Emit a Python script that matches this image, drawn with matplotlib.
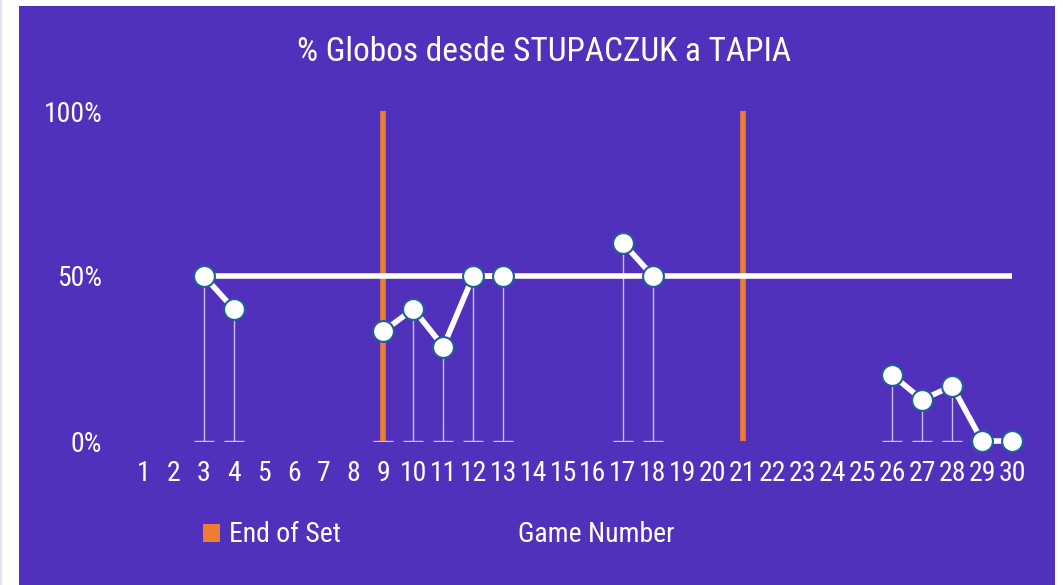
import numpy as np
import matplotlib.pyplot as plt
from matplotlib.patches import Rectangle, Patch

# datos
games = list(range(1, 31))
pct_globos = [np.nan, np.nan, 50, 40, np.nan, np.nan, np.nan, np.nan, 33.3, 40,
              28.6, 50, 50, np.nan, np.nan, np.nan, 60, 50, np.nan, np.nan,
              np.nan, np.nan, np.nan, np.nan, np.nan, 20, 12.5, 16.7, 0, 0]
ref_start = 3
ref_value = 50
end_of_set = [9, 21]
y_ticks = [0, 50, 100]
y_tick_labels = ['0%', '50%', '100%']

purple = '#5131bb'
orange = '#ed7d31'
plt.rcParams['font.family'] = ['Roboto Condensed', 'Roboto', 'DejaVu Sans']

fig = plt.figure(figsize=(10.63, 5.85), dpi=100, facecolor='white')
# fondo morado
fig.patches.append(Rectangle((19 / 1063, 0), (1055 - 19) / 1063, (585 - 6) / 585,
                             transform=fig.transFigure, facecolor=purple,
                             edgecolor='none', zorder=-2))
fig.patches.append(Rectangle((0, 0), 1.5 / 1063, 1, transform=fig.transFigure,
                             facecolor='#dce3f5', edgecolor='none', zorder=-2))

# x: 1 -> 144px, 30 -> 1012px ; y: 0 -> 441px, 100 -> 111px
ax = fig.add_axes([144 / 1063, 1 - 441 / 585, (1012 - 144) / 1063, (441 - 111) / 585])
ax.set_zorder(2)
ax.set_xlim(1, 30)
ax.set_ylim(0, 100)
ax.patch.set_visible(False)
for s in ax.spines.values():
    s.set_visible(False)

x = np.array(games, dtype=float)
y = np.array(pct_globos, dtype=float)

# lineas de caida
mask = ~np.isnan(y) & (y > 0)
ax.errorbar(x[mask], y[mask], yerr=[y[mask], np.zeros(mask.sum())], fmt='none',
            ecolor='#c9bfe9', elinewidth=1, capsize=7, capthick=1, zorder=2)

# fin de set
ax.vlines(end_of_set, 0, 100, colors=orange, linewidth=4, zorder=3)

# linea de 50%
ref_x = [g for g in games if g >= ref_start]
ax.plot(ref_x, [ref_value] * len(ref_x), color='white', linewidth=4,
        solid_capstyle='butt', zorder=4)

ax.plot(x, y, color='white', linewidth=4, zorder=5, marker='o', markersize=15,
        markerfacecolor='white', markeredgecolor='#1f5f9a', markeredgewidth=1.5,
        clip_on=False)

ax.set_yticks(y_ticks)
ax.set_yticklabels(y_tick_labels)
ax.set_xticks(games)
ax.set_xticklabels([str(g) for g in games])
ax.tick_params(axis='both', length=0, colors='white', labelsize=20)
ax.tick_params(axis='y', pad=30)
ax.tick_params(axis='x', pad=14)

fig.text(544 / 1063, 1 - 52 / 585, '% Globos desde STUPACZUK a TAPIA',
         color='white', fontsize=24, ha='center', va='center')
fig.text(596 / 1063, 1 - 534 / 585, 'Game Number', color='white', fontsize=20,
         ha='center', va='center')

leg = fig.legend(handles=[Patch(facecolor=orange, edgecolor='none', label='End of Set')],
                 loc='center left', bbox_to_anchor=(203 / 1063, 1 - 535 / 585),
                 frameon=False, fontsize=20, labelcolor='white',
                 borderaxespad=0, borderpad=0,
                 handlelength=0.6, handleheight=0.6, handletextpad=0.35)

fig.savefig('out.png', dpi=100, facecolor='white')
